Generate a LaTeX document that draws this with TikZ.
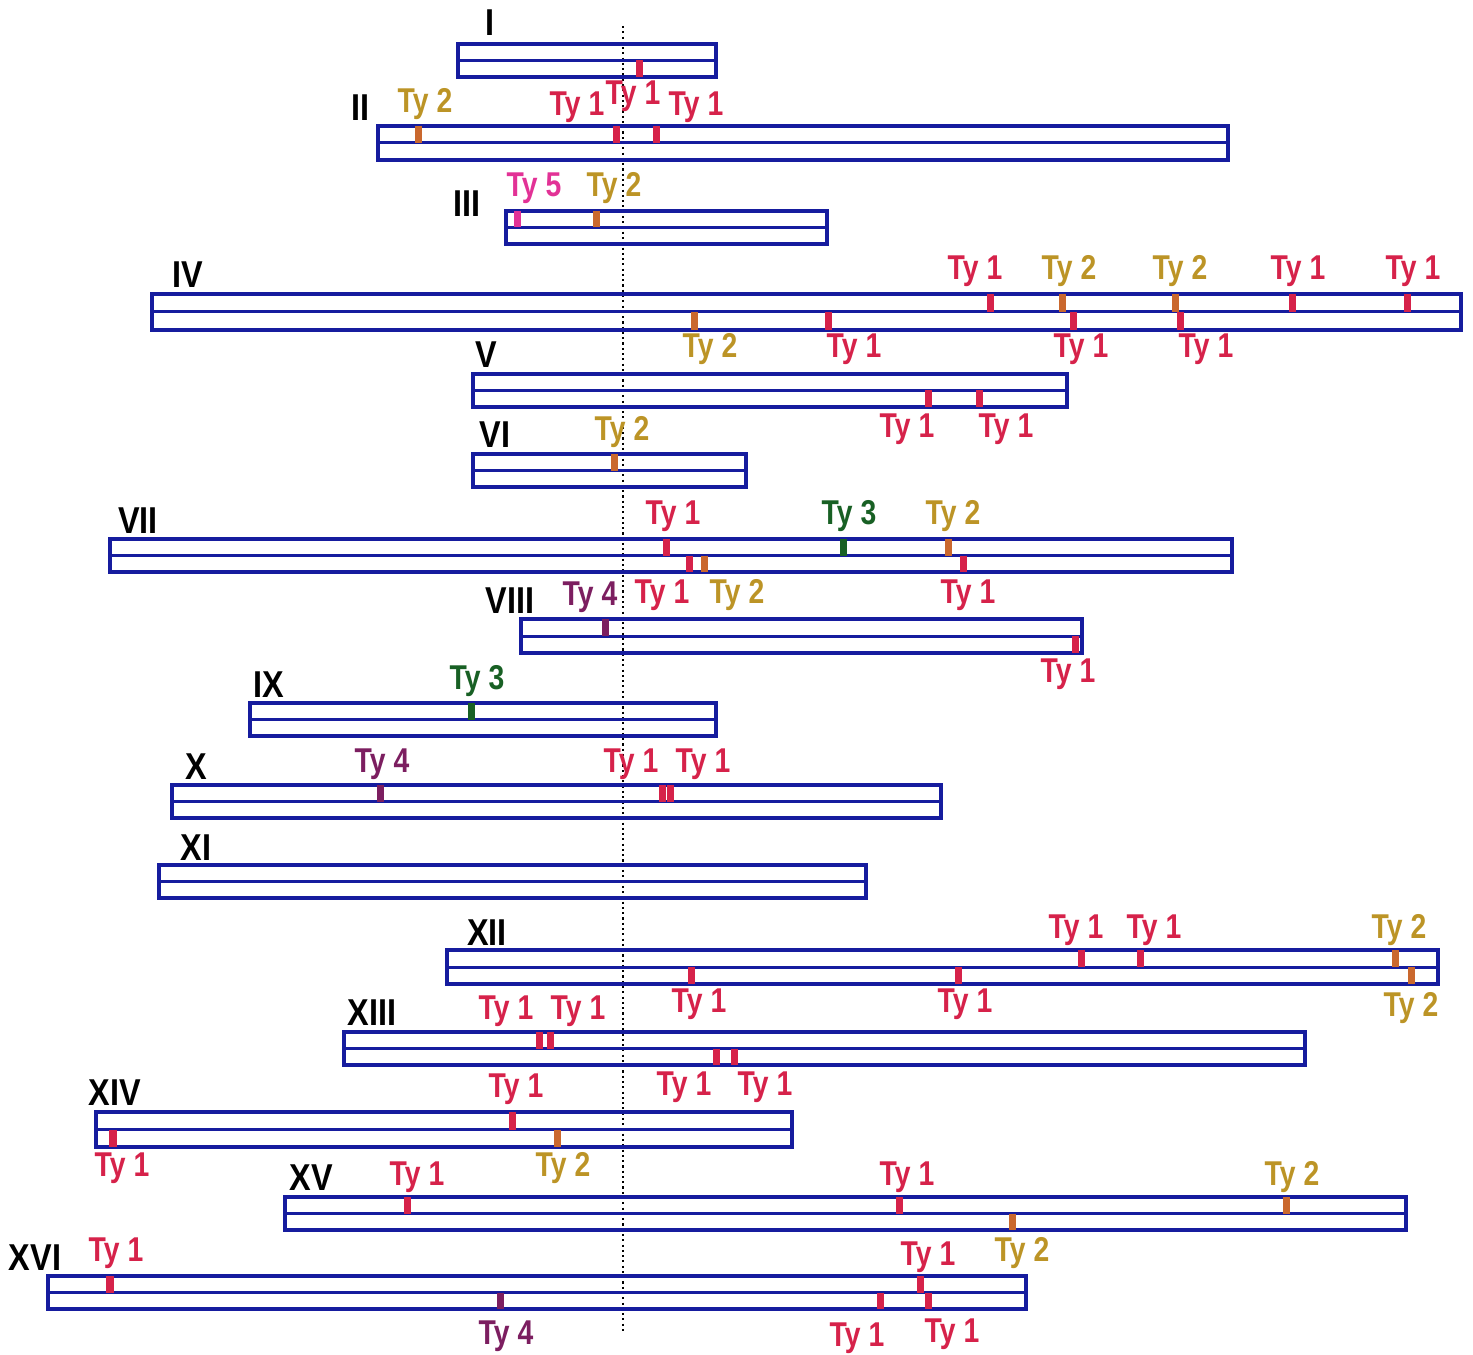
\documentclass[tikz,border=0pt]{standalone}
\usepackage{fontspec}
\usepackage{graphicx}
\setmainfont{Liberation Sans}

\definecolor{chrblue}{RGB}{22,28,158}
\definecolor{tyA}{RGB}{214,34,74}
\definecolor{tyBtxt}{RGB}{188,148,38}
\definecolor{tyBmk}{RGB}{202,104,46}
\definecolor{tyC}{RGB}{24,96,36}
\definecolor{tyD}{RGB}{124,30,96}
\definecolor{tyE}{RGB}{226,50,150}

\tikzset{
  chrline/.style={draw=chrblue, line width=0.31mm},
  midline/.style={draw=chrblue, line width=0.3mm},
  tick/.style={line width=0.7mm, line cap=butt},
  tylab/.style={font=\fontsize{8.3}{9}\selectfont\bfseries, inner sep=0pt, anchor=base},
  numlab/.style={font=\fontsize{9.5}{10}\selectfont\bfseries, inner sep=0pt, anchor=base, text=black},
  centreline/.style={draw=black, line width=0.55pt, dash pattern=on 0.6pt off 0.9pt}
}

\newcounter{tyc}
% chromosome bar: name, left, top, right, bottom
\newcommand\chromo[5]{%
  \def\cT{#3}\def\cB{#5}\pgfmathsetmacro\cM{(#3+#5)/2}%
  \coordinate (#1) at (#2,#3);
  \draw[chrline] (#2,#3) rectangle (#4,#5);
  \draw[midline] (#2,\cM) -- (#4,\cM);
}
% element marks in the upper / lower strand
\newcommand\tkU[2]{\draw[tick,#1] (#2,\cT) -- (#2,\cM);}
\newcommand\tkD[2]{\draw[tick,#1] (#2,\cM) -- (#2,\cB);}
% element label: colour, x, baseline y, family number
\newcommand\tyl[4]{\stepcounter{tyc}\node[tylab,text=#1] (ty\arabic{tyc}) at (#2,#3) {\scalebox{0.97}[1.18]{Ty #4}};}
% chromosome number
\newcommand\numl[4]{\node[numlab] (#1) at (#2,#3) {\scalebox{0.97}[1.12]{#4}};}

\begin{document}
\begin{tikzpicture}[x=0.01cm, y=-0.01cm]
\useasboundingbox (0,0) rectangle (1473,1355);

% centromere guide
\coordinate (cenTop) at (623,26);
\coordinate (cenBot) at (623,1332);
\draw[centreline] (cenTop) -- (cenBot);

% I
\chromo{chrI}{458}{44}{716}{77}
\numl{nI}{490}{36}{I}
\tkD{tyA}{639}
\tyl{tyA}{633}{105}{1}

% II
\chromo{chrII}{378}{126}{1228}{160}
\numl{nII}{360}{121}{II}
\tkU{tyBmk}{418}\tkU{tyA}{616}\tkU{tyA}{656}
\tyl{tyBtxt}{425}{113}{2}
\tyl{tyA}{577}{116}{1}
\tyl{tyA}{696}{116}{1}

% III
\chromo{chrIII}{506}{211}{827}{244}
\numl{nIII}{467}{217}{III}
\tkU{tyE}{517}\tkU{tyBmk}{596}
\tyl{tyE}{534}{197}{5}
\tyl{tyBtxt}{614}{197}{2}

% IV
\chromo{chrIV}{152}{294}{1461}{330}
\numl{nIV}{188}{288}{IV}
\tkU{tyA}{990}\tkU{tyBmk}{1062}\tkU{tyBmk}{1175}\tkU{tyA}{1292}\tkU{tyA}{1407}
\tyl{tyA}{975}{280}{1}
\tyl{tyBtxt}{1069}{280}{2}
\tyl{tyBtxt}{1180}{280}{2}
\tyl{tyA}{1298}{280}{1}
\tyl{tyA}{1413}{280}{1}
\tkD{tyBmk}{694}\tkD{tyA}{828}\tkD{tyA}{1073}\tkD{tyA}{1180}
\tyl{tyBtxt}{710}{358}{2}
\tyl{tyA}{854}{358}{1}
\tyl{tyA}{1081}{358}{1}
\tyl{tyA}{1206}{358}{1}

% V
\chromo{chrV}{473}{374}{1067}{407}
\numl{nV}{486}{368}{V}
\tkD{tyA}{928}\tkD{tyA}{979}
\tyl{tyA}{907}{437}{1}
\tyl{tyA}{1006}{437}{1}

% VI
\chromo{chrVI}{473}{454}{746}{487}
\numl{nVI}{495}{448}{VI}
\tkU{tyBmk}{614}
\tyl{tyBtxt}{622}{440}{2}

% VII
\chromo{chrVII}{110}{539}{1232}{572}
\numl{nVII}{138}{533}{VII}
\tkU{tyA}{666}\tkU{tyC}{843}\tkU{tyBmk}{948}
\tyl{tyA}{673}{524}{1}
\tyl{tyC}{849}{524}{3}
\tyl{tyBtxt}{953}{524}{2}
\tkD{tyA}{689}\tkD{tyBmk}{704}\tkD{tyA}{963}
\tyl{tyA}{662}{603}{1}
\tyl{tyBtxt}{737}{603}{2}
\tyl{tyA}{968}{603}{1}

% VIII
\chromo{chrVIII}{521}{619}{1082}{653}
\numl{nVIII}{510}{613}{VIII}
\tkU{tyD}{605}
\tyl{tyD}{590}{605}{4}
\tkD{tyA}{1075}
\tyl{tyA}{1068}{682}{1}

% IX
\chromo{chrIX}{250}{703}{716}{736}
\numl{nIX}{269}{697}{IX}
\tkU{tyC}{471}
\tyl{tyC}{477}{689}{3}

% X
\chromo{chrX}{172}{785}{941}{818}
\numl{nX}{196}{779}{X}
\tkU{tyD}{380}\tkU{tyA}{662}\tkU{tyA}{670}
\tyl{tyD}{382}{772}{4}
\tyl{tyA}{631}{772}{1}
\tyl{tyA}{703}{772}{1}

% XI
\chromo{chrXI}{159}{865}{866}{898}
\numl{nXI}{196}{860}{XI}

% XII
\chromo{chrXII}{447}{950}{1438}{984}
\numl{nXII}{487}{945}{XII}
\tkU{tyA}{1081}\tkU{tyA}{1140}\tkU{tyBmk}{1395}
\tyl{tyA}{1076}{938}{1}
\tyl{tyA}{1154}{938}{1}
\tyl{tyBtxt}{1399}{938}{2}
\tkD{tyA}{691}\tkD{tyA}{958}\tkD{tyBmk}{1411}
\tyl{tyA}{699}{1012}{1}
\tyl{tyA}{965}{1012}{1}
\tyl{tyBtxt}{1411}{1016}{2}

% XIII
\chromo{chrXIII}{344}{1032}{1305}{1065}
\numl{nXIII}{372}{1025}{XIII}
\tkU{tyA}{539}\tkU{tyA}{550}
\tyl{tyA}{506}{1019}{1}
\tyl{tyA}{578}{1019}{1}
\tkD{tyA}{716}\tkD{tyA}{734}
\tyl{tyA}{684}{1095}{1}
\tyl{tyA}{765}{1095}{1}

% XIV
\chromo{chrXIV}{96}{1112}{792}{1147}
\numl{nXIV}{115}{1105}{XIV}
\tkU{tyA}{512}
\tyl{tyA}{516}{1097}{1}
\tkD{tyA}{113}\tkD{tyBmk}{557}
\tyl{tyA}{122}{1176}{1}
\tyl{tyBtxt}{563}{1176}{2}

% XV
\chromo{chrXV}{285}{1197}{1406}{1230}
\numl{nXV}{311}{1190}{XV}
\tkU{tyA}{407}\tkU{tyA}{899}\tkU{tyBmk}{1286}
\tyl{tyA}{417}{1185}{1}
\tyl{tyA}{907}{1185}{1}
\tyl{tyBtxt}{1292}{1185}{2}
\tkD{tyBmk}{1012}
\tyl{tyBtxt}{1022}{1261}{2}

% XVI
\chromo{chrXVI}{48}{1276}{1026}{1309}
\numl{nXVI}{35}{1270}{XVI}
\tkU{tyA}{110}\tkU{tyA}{920}
\tyl{tyA}{116}{1261}{1}
\tyl{tyA}{928}{1265}{1}
\tkD{tyD}{500}\tkD{tyA}{880}\tkD{tyA}{928}
\tyl{tyD}{506}{1344}{4}
\tyl{tyA}{857}{1346}{1}
\tyl{tyA}{952}{1342}{1}
\end{tikzpicture}
\end{document}
